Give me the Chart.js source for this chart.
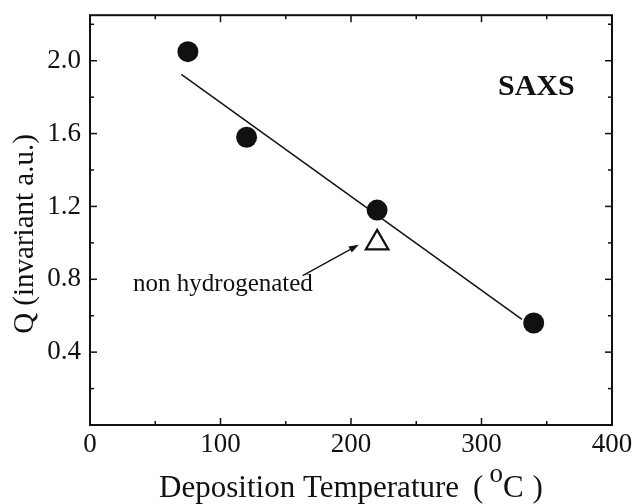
<!DOCTYPE html>
<html>
<head>
<meta charset="utf-8">
<script src="https://cdn.jsdelivr.net/npm/chart.js@4/dist/chart.umd.min.js"></script>
<style>
html, body { margin: 0; padding: 0; background: #fff; }
#wrap { width: 635px; height: 504px; }
</style>
</head>
<body>
<div id="wrap"><canvas id="chart" width="635" height="504"></canvas></div>
<script>
// hydrogenated samples
const temps = [75, 120, 220, 340];
const invariant = [2.05, 1.58, 1.18, 0.56];

// linear fit through them
const fitTemps = [70, 331];
const fitValues = [1.925, 0.580];

// non hydrogenated sample
const nonhTemps = [220];
const nonhValues = [1.0];

const xticks = [0, 100, 200, 300, 400];
const xminor = [50, 150, 250, 350];
const yticks = [0.4, 0.8, 1.2, 1.6, 2.0];
const yminor = [0.2, 0.6, 1.0, 1.4, 1.8, 2.2];

const serif = "'Liberation Serif', 'DejaVu Serif', serif";
const ink = "#111";

// annotation anchors, in data units
const saxsat = { x: 342, y: 1.81 };
const nonhlabelat = { x: 33, y: 0.734 };
const arrowfrom = { x: 163, y: 0.82 };
const arrowto = { x: 206, y: 0.99 };

const framePlugin = {
    id: "frame",
    afterDraw(chart) {
        const c = chart.ctx;
        const a = chart.chartArea;
        const xs = chart.scales.x;
        const ys = chart.scales.y;

        c.save();
        c.strokeStyle = ink;
        c.lineWidth = 2;
        c.strokeRect(a.left, a.top, a.right - a.left, a.bottom - a.top);

        // inward ticks on all four sides
        c.lineWidth = 1.5;
        const seg = (x1, y1, x2, y2) => {
            c.beginPath();
            c.moveTo(x1, y1);
            c.lineTo(x2, y2);
            c.stroke();
        };
        xticks.concat(xminor).forEach((v) => {
            const len = xticks.includes(v) ? 7 : 4;
            const px = xs.getPixelForValue(v);
            seg(px, a.bottom, px, a.bottom - len);
            seg(px, a.top, px, a.top + len);
        });
        yticks.concat(yminor).forEach((v) => {
            const len = yticks.includes(v) ? 7 : 4;
            const py = ys.getPixelForValue(v);
            seg(a.left, py, a.left + len, py);
            seg(a.right, py, a.right - len, py);
        });

        // arrow to the open triangle
        const fx = xs.getPixelForValue(arrowfrom.x);
        const fy = ys.getPixelForValue(arrowfrom.y);
        const tx = xs.getPixelForValue(arrowto.x);
        const ty = ys.getPixelForValue(arrowto.y);
        const ang = Math.atan2(ty - fy, tx - fx);
        c.lineWidth = 1.3;
        seg(fx, fy, tx - Math.cos(ang) * 6, ty - Math.sin(ang) * 6);
        c.fillStyle = ink;
        c.beginPath();
        c.moveTo(tx, ty);
        c.lineTo(tx - Math.cos(ang) * 10 + Math.sin(ang) * 3.5, ty - Math.sin(ang) * 10 - Math.cos(ang) * 3.5);
        c.lineTo(tx - Math.cos(ang) * 10 - Math.sin(ang) * 3.5, ty - Math.sin(ang) * 10 + Math.cos(ang) * 3.5);
        c.closePath();
        c.fill();

        // texts
        c.textBaseline = "alphabetic";
        c.font = "bold 30px " + serif;
        c.textAlign = "center";
        c.fillText("SAXS", xs.getPixelForValue(saxsat.x), ys.getPixelForValue(saxsat.y));

        c.font = "25px " + serif;
        c.textAlign = "left";
        c.fillText("non hydrogenated", xs.getPixelForValue(nonhlabelat.x), ys.getPixelForValue(nonhlabelat.y));

        // y title, sits a bit below the axis centre like the original
        c.save();
        c.translate(33, 234);
        c.rotate(-Math.PI / 2);
        c.font = "29px " + serif;
        c.textAlign = "center";
        c.fillText("Q (invariant a.u.)", 0, 0);
        c.restore();

        // x title with a raised "o" for degrees
        const big = "31px " + serif;
        const small = "27px " + serif;
        c.textAlign = "left";
        c.font = big;
        const w1 = c.measureText("Deposition Temperature").width;
        const wp = c.measureText("(").width;
        const wc = c.measureText("C").width;
        const wq = c.measureText(")").width;
        c.font = small;
        const wo = c.measureText("o").width;
        const total = w1 + 14 + wp + 6 + wo + wc + 9 + wq;
        let x0 = (a.left + a.right) / 2 - total / 2;
        const base = 497;
        c.font = big;
        c.fillText("Deposition Temperature", x0, base);
        x0 += w1 + 14;
        c.fillText("(", x0, base);
        x0 += wp + 6;
        c.font = small;
        c.fillText("o", x0, base - 15);
        x0 += wo;
        c.font = big;
        c.fillText("C", x0, base);
        x0 += wc + 9;
        c.fillText(")", x0, base);
        c.restore();
    },
};

const chartconfig = {
    type: "scatter",
    data: {
        datasets: [
            {
                label: "fit",
                type: "line",
                data: fitTemps.map((t, i) => ({ x: t, y: fitValues[i] })),
                borderColor: ink,
                borderWidth: 1.5,
                pointRadius: 0,
                fill: false,
            },
            {
                label: "hydrogenated",
                data: temps.map((t, i) => ({ x: t, y: invariant[i] })),
                pointStyle: "circle",
                pointRadius: 10.5,
                backgroundColor: ink,
                borderColor: ink,
                borderWidth: 0,
            },
            {
                label: "non hydrogenated",
                data: nonhTemps.map((t, i) => ({ x: t, y: nonhValues[i] })),
                pointStyle: "triangle",
                pointRadius: 13,
                backgroundColor: "#fff",
                borderColor: ink,
                borderWidth: 2.2,
            },
        ],
    },
    options: {
        responsive: false,
        animation: false,
        devicePixelRatio: 1,
        layout: { padding: { left: 0, right: 23, top: 14, bottom: 0 } },
        plugins: {
            legend: { display: false },
            tooltip: { enabled: false },
        },
        scales: {
            x: {
                type: "linear",
                min: 0,
                max: 400,
                afterBuildTicks: (s) => {
                    s.ticks = xticks.map((v) => ({ value: v }));
                },
                afterFit: (s) => {
                    s.height = 79;
                    s.paddingLeft = 0;
                    s.paddingRight = 0;
                },
                ticks: {
                    color: ink,
                    padding: 4,
                    font: { family: serif, size: 27 },
                    callback: (v) => String(v),
                },
                grid: { display: false, drawTicks: false },
                border: { display: false },
            },
            y: {
                type: "linear",
                min: 0,
                max: 2.25,
                afterBuildTicks: (s) => {
                    s.ticks = yticks.map((v) => ({ value: v }));
                },
                afterFit: (s) => {
                    s.width = 90;
                    s.paddingTop = 0;
                    s.paddingBottom = 0;
                },
                ticks: {
                    color: ink,
                    padding: 9,
                    font: { family: serif, size: 27 },
                    callback: (v) => Number(v).toFixed(1),
                },
                grid: { display: false, drawTicks: false },
                border: { display: false },
            },
        },
    },
    plugins: [framePlugin],
};

new Chart(document.getElementById("chart").getContext("2d"), chartconfig);
</script>
</body>
</html>
